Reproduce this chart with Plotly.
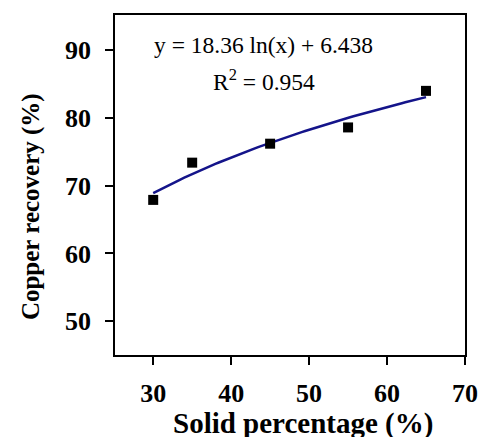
import numpy as np
import plotly.graph_objects as go

# Data
solid_pct = [30, 35, 45, 55, 65]
cu_recovery = [67.9, 73.4, 76.2, 78.6, 84.0]

# Logarithmic trendline shown on chart: y = a ln(x) + b
fit_a = 18.36
fit_b = 6.438
fit_x = np.linspace(30, 65, 80)
fit_y = fit_a * np.log(fit_x) + fit_b

x_ticks = [30, 40, 50, 60, 70]
y_ticks = [50, 60, 70, 80, 90]

FONT = "Liberation Serif, Times New Roman, serif"

fig = go.Figure()
fig.add_trace(go.Scatter(
    x=fit_x, y=fit_y, mode="lines",
    line=dict(color="#14148a", width=2.5),
    showlegend=False, hoverinfo="skip"))
fig.add_trace(go.Scatter(
    x=solid_pct, y=cu_recovery, mode="markers",
    marker=dict(symbol="square", size=10, color="black"),
    showlegend=False))

axis_common = dict(
    showgrid=False, zeroline=False,
    showline=True, linecolor="black", linewidth=1.6, mirror=True,
    ticks="outside", ticklen=8, tickwidth=1.6, tickcolor="black",
    tickfont=dict(family=FONT, size=26, color="black", weight="bold"),
)

fig.update_xaxes(range=[25.1, 70], tickvals=x_ticks, ticklabelstandoff=6, **axis_common)
fig.update_yaxes(range=[45, 95.2], tickvals=y_ticks, ticklabelstandoff=9, **axis_common)

fig.add_annotation(xref="paper", yref="paper", x=0.4246, y=0.9118,
                   text="y = 18.36 ln(x) + 6.438", showarrow=False,
                   font=dict(family=FONT, size=23.5, color="black"),
                   xanchor="center", yanchor="middle")
fig.add_annotation(xref="paper", yref="paper", x=0.427, y=0.81,
                   text="R<sup>2</sup> = 0.954", showarrow=False,
                   font=dict(family=FONT, size=23.5, color="black"),
                   xanchor="center", yanchor="middle")

# Axis titles
fig.add_annotation(xref="paper", yref="paper", x=0.536, y=-0.2,
                   text="Solid percentage (%)", showarrow=False,
                   font=dict(family=FONT, size=29, color="black", weight="bold"),
                   xanchor="center", yanchor="middle")
fig.add_annotation(xref="paper", yref="paper", x=-0.240, y=0.435,
                   text="Copper recovery (%)", showarrow=False, textangle=-90,
                   font=dict(family=FONT, size=25, color="black", weight="bold"),
                   xanchor="center", yanchor="middle")

fig.update_layout(
    width=490, height=437,
    margin=dict(l=115, r=17, t=15, b=82),
    paper_bgcolor="white", plot_bgcolor="white",
)

fig.write_html("out.html")
